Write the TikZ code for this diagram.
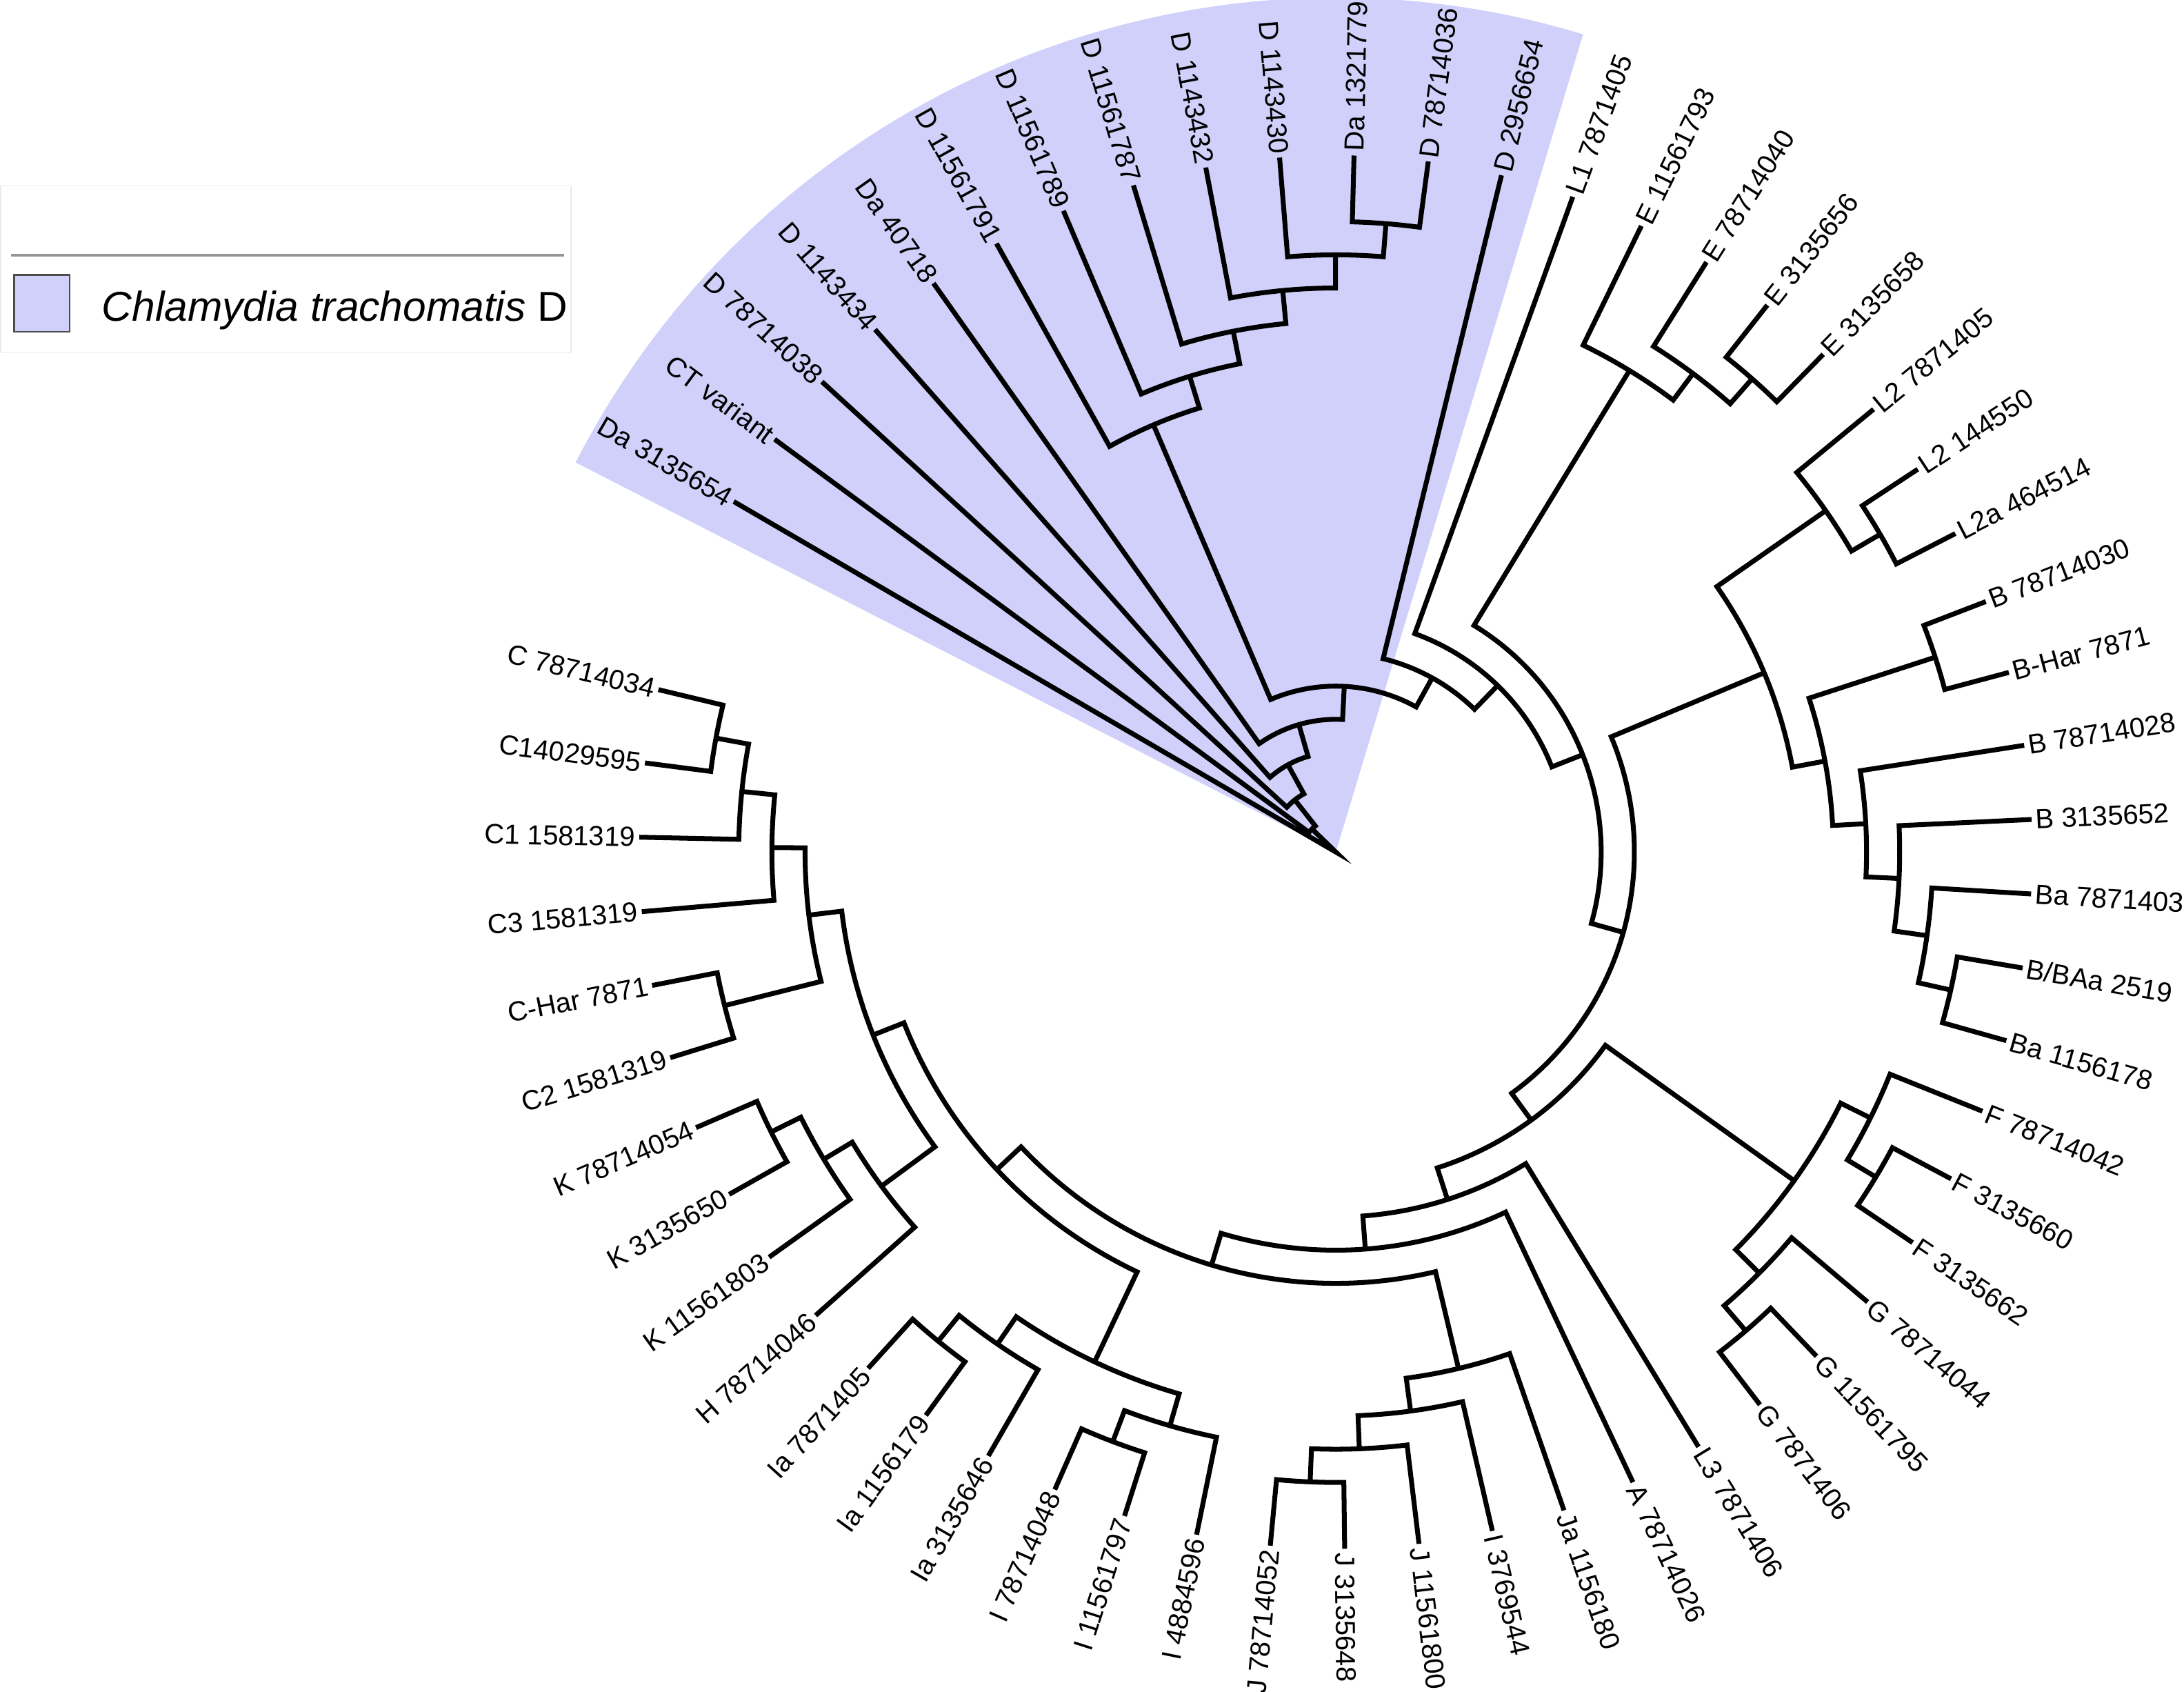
\documentclass[tikz,border=0pt]{standalone}
\usepackage{fontspec}
\setmainfont{Liberation Sans}
\usepackage{tikz}
\definecolor{cladeD}{RGB}{208,208,250}
\definecolor{legline}{RGB}{150,150,150}

\begin{document}
\begin{tikzpicture}[x=0.481cm,y=0.481cm,
    branch/.style={line width=2pt,line join=miter},
    leaflab/.style={font=\fontsize{11.4}{13}\selectfont,inner sep=1.5pt}]
    \useasboundingbox (-40.27,-25.30) rectangle (25.57,25.68);

    % shaded wedge of the D clade
    \fill[cladeD] (0,0) -- (152.87:25.75) arc[start angle=152.87,end angle=73.17,radius=25.75] -- cycle;

    % leaf labels, evenly spaced round the circle
    \foreach \lab [count=\k] in {Da 3135654, CT variant, D 78714038, D 1143434, Da 40718,
        D 11561791, D 11561789, D 11561787, D 1143432, D 1143430, Da 13217798, D 78714036,
        D 2956654, L1 7871405, E 11561793, E 78714040, E 3135656, E 3135658, L2 7871405,
        L2 144550, L2a 464514, B 78714030, B-Har 7871, B 78714028, B 3135652, Ba 7871403,
        B/BAa 2519, Ba 1156178, F 78714042, F 3135660, F 3135662, G 78714044, G 11561795,
        G 7871406, L3 7871406, A 78714026, Ja 1156180, I 3769544, J 11561800, J 3135648,
        J 78714052, I 4884596, I 11561797, I 78714048, Ia 3135646, Ia 1156179, Ia 7871405,
        H 78714046, K 11561803, K 3135650, K 78714054, C2 1581319, C-Har 7871, C3 1581319,
        C1 1581319, C14029595, C 78714034} {
        \pgfmathsetmacro{\ang}{149.8-(\k-1)*6.13}
        \pgfmathtruncatemacro{\lft}{cos(\ang)<0}
        \ifnum\lft=1
            \pgfmathsetmacro{\rot}{\ang+180}
            \node[leaflab,anchor=east,rotate=\rot] (leaf\k) at (\ang:21) {\lab};
        \else
            \node[leaflab,anchor=west,rotate=\ang] (leaf\k) at (\ang:21) {\lab};
        \fi
    }

    % root
    \draw[branch] (149.8:21) -- (0,0) -- (135.92:1);

    % clades: first child angle/level, last child angle/level, clade level
    \foreach \aa/\la/\ab/\lb/\lv in {
        143.67/21/128.165/2/1, 137.54/21/118.79/3/2, 131.41/21/106.175/4/3,
        125.28/21/87.07/5/4, 113.12/14/61.025/6/5,
        119.15/21/107.08/15/14, 113.02/21/101.14/16/15, 106.89/21/95.40/17/16,
        100.76/21/90.03/18/17, 94.63/21/85.435/19/18, 88.50/21/82.37/21/19,
        76.24/21/45.81/7/6, 70.11/21/21.51/8/7, 58.62/17/-15.605/9/8,
        63.98/21/53.25/18/17, 57.85/21/48.655/19/18, 51.72/21/45.59/21/19,
        22.70/14/-53.91/10/9, 34.86/18/10.53/15/14,
        39.46/21/30.265/19/18, 33.33/21/27.20/21/19,
        18.005/19/3.06/16/15, 21.07/21/14.94/21/19,
        8.81/21/-2.685/17/16, 2.68/21/-8.05/18/17, -3.45/21/-12.645/19/18, -9.58/21/-15.71/21/19,
        -35.635/17/-72.185/11/10, -26.44/18/-44.83/18/17,
        -21.84/21/-31.035/19/18, -27.97/21/-34.10/21/19,
        -40.23/21/-49.425/19/18, -46.36/21/-52.49/21/19,
        -58.62/21/-85.75/12/11, -64.75/21/-106.75/13/12, -76.63/16/-136.875/14/13,
        -70.88/21/-82.375/17/16, -77.01/21/-87.74/18/17, -83.14/21/-92.335/19/18,
        -89.27/21/-95.40/21/19,
        -115.325/17/-158.425/15/14, -106.13/18/-124.52/18/17,
        -101.53/21/-110.725/19/18, -107.66/21/-113.79/21/19,
        -119.92/21/-129.115/19/18, -126.05/21/-132.18/21/19,
        -143.675/17/-173.175/16/15, -138.31/21/-149.04/18/17,
        -144.44/21/-153.635/19/18, -150.57/21/-156.70/21/19,
        -165.895/19/-180.455/17/16, -162.83/21/-168.96/21/19,
        -175.09/21/-185.82/18/17, -181.22/21/-190.415/19/18, -187.35/21/-193.48/21/19}
        \draw[branch] (\aa:\la) -- (\aa:\lv) arc[start angle=\aa,end angle=\ab,radius=\lv] -- (\ab:\lb);

    % legend
    \draw[black!8,fill=white] (-40.25,20.08) rectangle (-23.06,15.05);
    \draw[legline,line width=1.2pt] (-39.94,17.98) -- (-23.26,17.98);
    \draw[black!70,fill=cladeD,line width=0.8pt] (-39.85,17.40) rectangle (-38.17,15.68);
    \node[anchor=base west,inner sep=0pt,font=\fontsize{17.2}{20}\selectfont] (legtext) at (-37.21,16.01)
        {\itshape Chlamydia trachomatis\upshape{} D};
\end{tikzpicture}
\end{document}
